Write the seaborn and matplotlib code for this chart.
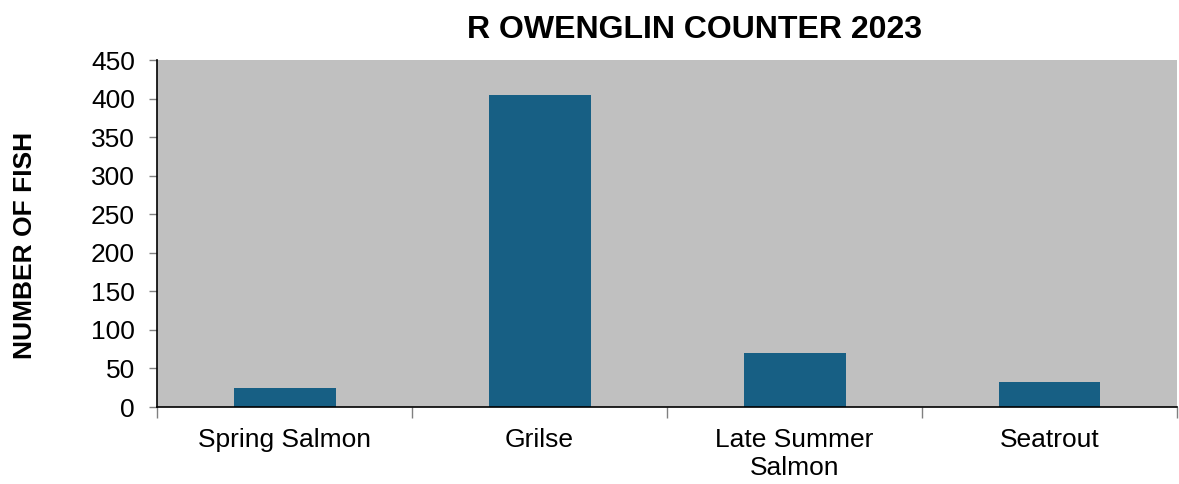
import seaborn as sns
import matplotlib
matplotlib.use("Agg")
import matplotlib.pyplot as plt
import numpy as np
import pandas as pd

sns.set_theme(style="white")
plt.rcParams['font.family'] = ['Liberation Sans', 'DejaVu Sans']
plt.rcParams['text.color'] = 'black'
plt.rcParams['axes.labelcolor'] = 'black'
plt.rcParams['xtick.color'] = 'black'
plt.rcParams['ytick.color'] = 'black'

# data
categories = ['Spring Salmon', 'Grilse', 'Late Summer\nSalmon', 'Seatrout']
fish = [25, 404, 70, 32]

df = pd.DataFrame({'category': categories, 'fish': fish})

fig = plt.figure(figsize=(11.79, 4.84), dpi=100)
ax = fig.add_axes([0.1332, 0.159, 0.8651, 0.717])
ax.set_facecolor('#C0C0C0')

sns.barplot(data=df, x='category', y='fish', color='#175F84', width=0.4,
            saturation=1, edgecolor='none', linewidth=0, ax=ax)

ax.set_ylim(0, 450)
ax.set_xlim(-0.5, len(categories) - 0.5)
ax.set_yticks(np.arange(0, 451, 50))
ax.tick_params(axis='y', labelsize=19, length=6, width=1, direction='out',
               color='#808080', pad=10, left=True, labelcolor='black')
ax.tick_params(axis='x', labelsize=19, length=0, pad=15, labelcolor='black')
ax.set_xticks(np.arange(-0.5, len(categories), 1.0), minor=True)
ax.tick_params(axis='x', which='minor', length=8, width=1, color='#808080',
               bottom=True)

for s in ['top', 'right']:
    ax.spines[s].set_visible(False)
for s in ['left', 'bottom']:
    ax.spines[s].set_color('black')
    ax.spines[s].set_linewidth(1.2)

ax.set_xlabel('')
ax.set_ylabel('NUMBER OF FISH', fontsize=19, fontweight='bold', color='black')
ax.yaxis.set_label_coords(-0.118, 0.465)
ax.set_title('R OWENGLIN COUNTER 2023', fontsize=23, fontweight='bold',
             color='black', x=0.527, pad=16)

fig.savefig('out.png', dpi=100)
